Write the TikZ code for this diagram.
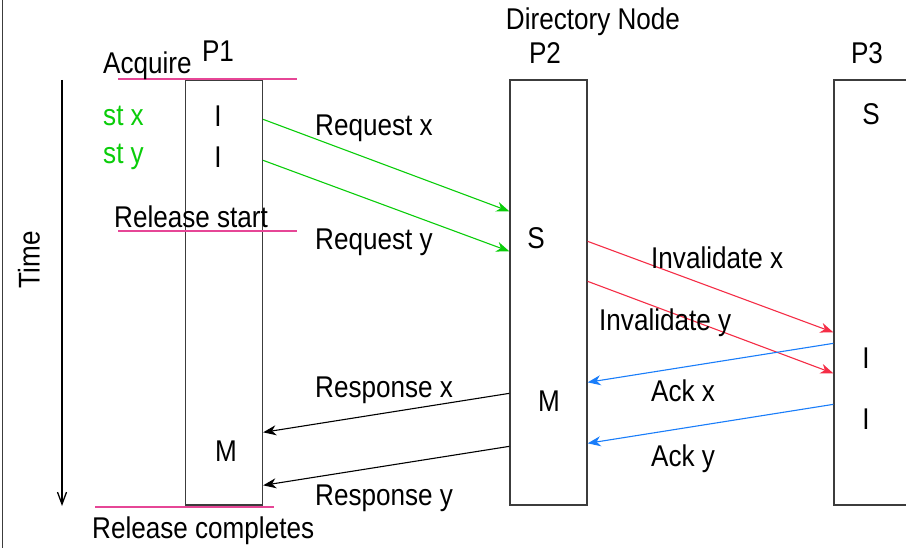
\documentclass[tikz,border=0pt]{standalone}
\usepackage{fontspec}
\setmainfont[FakeStretch=0.87]{Liberation Sans}
\usetikzlibrary{arrows.meta}

\definecolor{stgreen}{RGB}{10,205,10}
\definecolor{invred}{RGB}{245,45,70}
\definecolor{ackblue}{RGB}{25,125,250}
\definecolor{phase}{RGB}{230,70,150}
\definecolor{boxline}{RGB}{60,60,60}

\tikzset{
  lbl/.style={font=\fontsize{30}{34}\selectfont, inner sep=0pt},
  procbox/.style={draw=boxline, line width=1.3pt, minimum width=77pt, minimum height=425pt, inner sep=0pt},
  msg/.style={line width=1.1pt, -{Stealth[length=13pt,width=10pt,inset=4pt]}},
  phaseline/.style={draw=phase, line width=1.2pt},
}

\begin{document}
\begin{tikzpicture}[x=1pt, y=-1pt]
  \clip (0,0) rectangle (906,548);
  \useasboundingbox (0,0) rectangle (906,548);
  \fill[white] (0,0) rectangle (906,548);

  % frame edge on the left
  \draw[boxline, line width=1.2pt] (2.5,0) -- (2.5,548);

  % time axis
  \coordinate (t0) at (62,80);
  \coordinate (t1) at (62,506);
  \draw[line width=1.3pt, -{Straight Barb[length=12pt,width=9pt]}] (t0) -- (t1);
  \node[lbl, rotate=90] (time) at (29,260) {Time};

  % processor lifelines
  \node[procbox] (p1) at (224,292.5) {};
  \node[procbox] (p2) at (548.5,292.5) {};
  \node[procbox] (p3) at (872.5,292.5) {};

  % headers
  \node[lbl] (hp1) at (218,51) {P1};
  \node[lbl] (dir) at (593,22) {Directory Node};
  \node[lbl] (hp2) at (545,53) {P2};
  \node[lbl] (hp3) at (867,53) {P3};

  % acquire / release markers
  \coordinate (aq0) at (118,79);   \coordinate (aq1) at (297,79);
  \coordinate (rs0) at (118,231);  \coordinate (rs1) at (297,231);
  \coordinate (rc0) at (95,507); \coordinate (rc1) at (274,507);
  \draw[phaseline] (aq0) -- (aq1);
  \draw[phaseline] (rs0) -- (rs1);
  \draw[phaseline] (rc0) -- (rc1);
  \node[lbl, anchor=west] (acq) at (103,66) {Acquire};
  \node[lbl, anchor=west] (rst) at (114,217) {Release start};
  \node[lbl, anchor=west] (rcm) at (92,531) {Release completes};

  % stores and states
  \node[lbl, anchor=west, text=stgreen] (stx) at (103,116) {st x};
  \node[lbl, anchor=west, text=stgreen] (sty) at (103,157) {st y};
  \node[lbl] (s1a) at (218,116) {I};
  \node[lbl] (s1b) at (218,157) {I};
  \node[lbl] (s1c) at (226,451) {M};
  \node[lbl] (s2a) at (536,238) {S};
  \node[lbl] (s2b) at (549,401) {M};
  \node[lbl] (s3a) at (871,114) {S};
  \node[lbl] (s3b) at (866,358) {I};
  \node[lbl] (s3c) at (866,419) {I};

  % requests P1 -> P2
  \draw[msg, stgreen] ([yshift=-40pt]p1.north east) -- ([yshift=-132pt]p2.north west);
  \draw[msg, stgreen] ([yshift=-81pt]p1.north east) -- ([yshift=-172pt]p2.north west);
  \node[lbl, anchor=west] (rqx) at (315,128) {Request x};
  \node[lbl, anchor=west] (rqy) at (315,242) {Request y};

  % invalidations P2 -> P3
  \draw[msg, invred] ([yshift=-162pt]p2.north east) -- ([yshift=-253pt]p3.north west);
  \draw[msg, invred] ([yshift=-202pt]p2.north east) -- ([yshift=-294pt]p3.north west);
  \node[lbl, anchor=west] (ivx) at (651,258) {Invalidate x};
  \node[lbl, anchor=west] (ivy) at (599,323) {Invalidate y};

  % acknowledgements P3 -> P2
  \draw[msg, ackblue] ([yshift=-264pt]p3.north west) -- ([yshift=-303pt]p2.north east);
  \draw[msg, ackblue] ([yshift=-325pt]p3.north west) -- ([yshift=-364pt]p2.north east);
  \node[lbl, anchor=west] (akx) at (651,391) {Ack x};
  \node[lbl, anchor=west] (aky) at (651,459) {Ack y};

  % responses P2 -> P1
  \draw[msg, black] ([yshift=-314pt]p2.north west) -- ([yshift=-353pt]p1.north east);
  \draw[msg, black] ([yshift=-367pt]p2.north west) -- ([yshift=-406pt]p1.north east);
  \node[lbl, anchor=west] (rpx) at (315,390) {Response x};
  \node[lbl, anchor=west] (rpy) at (315,498) {Response y};
\end{tikzpicture}
\end{document}
